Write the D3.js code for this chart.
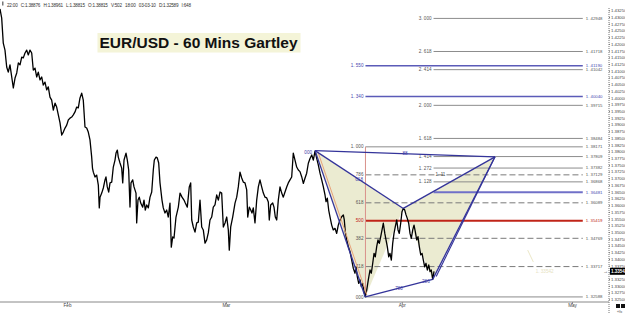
<!DOCTYPE html>
<html>
<head>
<meta charset="utf-8">
<script src="https://cdn.jsdelivr.net/npm/d3@7"></script>
<style>
	body { margin: 0; background: #fff; }
	svg { display: block; font-family: "Liberation Sans", Arial, sans-serif; }
</style>
</head>
<body>
<svg id="chart" width="625" height="313"></svg>
<script>
// hourly EUR/USD closes, day = days since 2010-01-01 (UTC)
const days = [
	19.19, 19.49, 19.77, 20.07, 20.37, 20.65, 20.95, 21.54, 21.84, 22.14, 22.42, 22.72, 23.02, 23.30, 23.60, 23.90,
	24.18, 24.48, 24.78, 25.06, 25.36, 25.66, 25.94, 26.24, 26.54, 26.82, 27.12, 27.42, 27.70, 28.00, 28.30, 28.59,
	28.89, 29.18, 29.47, 29.77, 30.07, 30.35, 30.65, 30.95, 31.23, 31.53, 31.83, 32.11, 32.41, 32.71, 32.99, 33.29,
	33.59, 33.87, 34.17, 34.47, 34.75, 35.05, 35.35, 35.49, 35.64, 35.94, 36.23, 36.52, 36.69, 36.82, 37.12, 37.40,
	37.70, 37.87, 38.10, 38.35, 38.58, 38.88, 39.16, 39.46, 39.64, 39.87, 40.04, 40.34, 40.64, 40.82, 41.05, 41.40,
	41.63, 41.87, 42.10, 42.28, 42.58, 42.81, 43.16, 43.28, 43.51, 43.74, 43.99, 44.34, 44.57, 44.80, 45.05, 45.33,
	45.63, 45.93, 46.21, 46.39, 46.69, 46.91, 47.16, 47.39, 47.74, 47.97, 48.27, 48.57, 48.85, 49.15, 49.38, 49.63,
	49.86, 50.21, 50.62, 50.92, 51.27, 51.62, 51.85, 52.20, 52.55, 52.80, 52.98, 53.26, 53.56, 53.86, 54.14, 54.44,
	54.74, 55.02, 55.32, 55.62, 55.90, 56.20, 56.50, 56.78, 57.08, 57.38, 57.67, 57.97, 58.26, 58.55, 58.85, 59.15,
	59.43, 59.60, 59.85, 60.20, 60.61, 60.91, 61.19, 61.49, 61.79, 62.07, 62.37, 62.67, 62.85, 63.13, 63.38, 63.60,
	63.83, 64.13, 64.43, 64.72, 65.01, 65.31, 65.60, 65.90, 66.20, 66.48, 66.65, 66.90, 67.25, 67.48, 67.71, 67.96,
	68.24, 68.54, 68.84, 69.12, 69.42, 69.72, 70.00, 70.30, 70.60, 70.88, 71.18, 71.48, 71.77, 72.06, 72.36, 72.65,
	72.94, 73.24, 73.53, 73.83, 74.13, 74.41, 74.71, 75.01, 75.29, 75.59, 75.89, 76.17, 76.47, 76.65, 76.88, 77.12,
	77.35, 77.65, 77.93, 78.23, 78.53, 78.81, 79.11, 79.41, 79.70, 79.87, 80.05, 80.29, 80.58, 80.88, 81.18, 81.46,
	81.76, 81.93, 82.16, 82.41, 82.64, 82.87, 83.11, 83.34, 83.57, 83.82, 84.10, 84.40, 84.63, 84.88, 85.11, 85.33,
	85.58, 85.81, 86.04, 86.29, 86.52, 86.75, 87.01, 87.22, 87.45, 87.70, 87.92, 88.16, 88.40, 88.63, 88.86, 89.11,
	89.34, 89.56, 89.81, 90.04, 90.27, 90.52, 90.75, 90.97, 91.22, 91.45, 91.68, 91.93, 92.16, 92.39, 92.63, 92.86,
	93.09, 93.34, 93.57, 93.80, 94.04, 94.27, 94.50, 94.75, 94.98, 95.20, 95.45, 95.68
]
const closes = [
	1.4330, 1.4296, 1.4203, 1.4177, 1.4114, 1.4095, 1.4122, 1.4036, 1.4073, 1.4092, 1.4129, 1.4122, 1.4151, 1.4148, 1.4166, 1.4177,
	1.4159, 1.4177, 1.4166, 1.4103, 1.4110, 1.4077, 1.4095, 1.4066, 1.4077, 1.4047, 1.4058, 1.4029, 1.4040, 1.4002, 1.3991, 1.3954,
	1.3980, 1.3965, 1.3936, 1.3906, 1.3861, 1.3872, 1.3887, 1.3898, 1.3917, 1.3924, 1.3928, 1.3936, 1.3947, 1.3965, 1.3962, 1.3999,
	1.4017, 1.3991, 1.3891, 1.3887, 1.3872, 1.3843, 1.3779, 1.3738, 1.3723, 1.3705, 1.3712, 1.3675, 1.3590, 1.3630, 1.3645, 1.3664,
	1.3694, 1.3705, 1.3668, 1.3649, 1.3683, 1.3686, 1.3742, 1.3768, 1.3794, 1.3805, 1.3779, 1.3757, 1.3738, 1.3683, 1.3768, 1.3794,
	1.3768, 1.3731, 1.3593, 1.3683, 1.3694, 1.3668, 1.3645, 1.3534, 1.3619, 1.3630, 1.3608, 1.3593, 1.3619, 1.3582, 1.3601, 1.3590,
	1.3630, 1.3649, 1.3731, 1.3768, 1.3779, 1.3776, 1.3757, 1.3683, 1.3619, 1.3590, 1.3571, 1.3582, 1.3556, 1.3608, 1.3444, 1.3482,
	1.3478, 1.3556, 1.3593, 1.3645, 1.3630, 1.3619, 1.3608, 1.3593, 1.3668, 1.3683, 1.3545, 1.3519, 1.3500, 1.3534, 1.3537, 1.3619,
	1.3519, 1.3508, 1.3459, 1.3471, 1.3497, 1.3545, 1.3556, 1.3593, 1.3601, 1.3638, 1.3619, 1.3649, 1.3645, 1.3519, 1.3534, 1.3556,
	1.3508, 1.3433, 1.3519, 1.3556, 1.3608, 1.3630, 1.3668, 1.3723, 1.3701, 1.3686, 1.3683, 1.3657, 1.3556, 1.3593, 1.3582, 1.3571,
	1.3590, 1.3534, 1.3619, 1.3668, 1.3694, 1.3668, 1.3645, 1.3630, 1.3627, 1.3612, 1.3545, 1.3601, 1.3608, 1.3593, 1.3556, 1.3545,
	1.3619, 1.3668, 1.3645, 1.3630, 1.3649, 1.3668, 1.3683, 1.3694, 1.3705, 1.3794, 1.3768, 1.3742, 1.3731, 1.3725, 1.3706, 1.3681,
	1.3700, 1.3719, 1.3756, 1.3774, 1.3787, 1.3768, 1.3801, 1.3774, 1.3750, 1.3719, 1.3694, 1.3669, 1.3638, 1.3613, 1.3626, 1.3582,
	1.3557, 1.3526, 1.3508, 1.3514, 1.3495, 1.3526, 1.3545, 1.3557, 1.3564, 1.3545, 1.3501, 1.3471, 1.3446, 1.3427, 1.3396, 1.3365,
	1.3347, 1.3371, 1.3334, 1.3309, 1.3322, 1.3297, 1.3309, 1.3278, 1.3259, 1.3284, 1.3322, 1.3359, 1.3347, 1.3384, 1.3421, 1.3408,
	1.3446, 1.3471, 1.3458, 1.3483, 1.3508, 1.3533, 1.3495, 1.3471, 1.3446, 1.3408, 1.3421, 1.3396, 1.3458, 1.3495, 1.3520, 1.3545,
	1.3508, 1.3495, 1.3533, 1.3576, 1.3588, 1.3582, 1.3564, 1.3551, 1.3533, 1.3495, 1.3477, 1.3508, 1.3526, 1.3501, 1.3471, 1.3483,
	1.3446, 1.3415, 1.3421, 1.3396, 1.3371, 1.3384, 1.3359, 1.3378, 1.3353, 1.3359, 1.3324, 1.3354
]
const lastPrice = 1.33542

// Gartley points X A B C D
const patternNames = ['X', 'A', 'B', 'C', 'D']
const patternDays = [74.71, 83.57, 90.27, 95.45, 106.43]
const patternPrices = [1.3803, 1.32588, 1.3588, 1.3324, 1.3780]
const patternLegs = [['X', 'A'], ['X', 'B'], ['A', 'C'], ['B', 'D'], ['C', 'D'], ['X', 'D']]
const legRatios = [['X', 'B', '618'], ['X', 'D', '88'], ['A', 'C', '780']]
const pointRatios = [['X', '000'], ['C', '286']]

// fibonacci / extension levels
const levelRatios = ['3. 000', '2. 618', '1. 550', '2. 414', '1. 340', '2. 000', '1. 618', '1. 000', '1. 414',
	'1. 272', '786', '1. 128', '', '618', '500', '382', '118', '000']
const levelPrices = [1.42948, 1.41718, 1.41190, 1.41042, 1.40040, 1.39715, 1.38484, 1.38171, 1.37809,
	1.37382, 1.37129, 1.36868, 1.36481, 1.36089, 1.35419, 1.34769, 1.33717, 1.32588]
const levelKinds = ['ext', 'ext', 'blue', 'ext', 'blue', 'ext', 'ext', 'fib', 'ext',
	'ext', 'dash', 'ext', 'blueExt', 'dash', 'red', 'dash', 'dash', 'fib']

const monthDays = [31, 59, 90, 120]
const monthLabels = ['Feb', 'Mar', 'Apr', 'May']
const priceTicks = d3.range(0, 44).map(i => 1.325 + i * 0.0025)

const infoText = '22:00   C:1.38876   H:1.38961   L:1.38815   O:1.38815   V:502   18:00   03-03-10   D:1.32589   I:648'
const title = 'EUR/USD - 60 Mins Gartley'

// layout
const W = 625, H = 313
const PLOT_RIGHT = 609, PLOT_BOTTOM = 302
const FIB_START = 83.6, EXT_START = 95.6, LEVEL_END = 121.9
const SMALL = 4.6

const DAY0 = Date.UTC(2010, 0, 1)
const toDate = d => new Date(DAY0 + d * 864e5)

const x = d3.scaleUtc().domain([toDate(31), toDate(120)]).range([67, 572])
const y = d3.scaleLinear().domain([1.325, 1.4325]).range([299.3, 10.3])
const px = d => x(toDate(d))

const svg = d3.select('#chart')
const pt = {}
patternNames.forEach((n, i) => { pt[n] = [px(patternDays[i]), y(patternPrices[i])] })

// shaded triangles XAB and BCD
svg.append('g').selectAll('path')
	.data([['X', 'A', 'B'], ['B', 'C', 'D']])
	.join('path')
	.attr('d', tri => 'M' + tri.map(n => pt[n].join(',')).join('L') + 'Z')
	.attr('fill', '#ebebd1')

// level lines
const levelStyle = {
	ext: {stroke: '#8c8c8c', width: 1, dash: null, start: EXT_START, text: '#555'},
	fib: {stroke: '#8c8c8c', width: 1, dash: null, start: FIB_START, text: '#555'},
	dash: {stroke: '#7a7a7a', width: 1, dash: '6,3', start: FIB_START, text: '#555'},
	blue: {stroke: '#5b5bb8', width: 1.5, dash: null, start: FIB_START, text: '#4848b0'},
	blueExt: {stroke: '#7070c8', width: 2, dash: null, start: EXT_START, text: '#4848b0'},
	red: {stroke: '#c02418', width: 2, dash: null, start: FIB_START, text: '#c02418'}
}
const levels = levelPrices.map((p, i) => ({p, r: levelRatios[i], s: levelStyle[levelKinds[i]]}))

const lv = svg.append('g').selectAll('g').data(levels).join('g')
lv.append('line')
	.attr('x1', d => px(d.s.start)).attr('x2', px(LEVEL_END))
	.attr('y1', d => y(d.p)).attr('y2', d => y(d.p))
	.attr('stroke', d => d.s.stroke)
	.attr('stroke-width', d => d.s.width)
	.attr('stroke-dasharray', d => d.s.dash)
lv.append('text')
	.attr('x', d => px(d.s.start) - 2).attr('y', d => y(d.p))
	.attr('dy', '0.35em').attr('text-anchor', 'end')
	.attr('font-size', SMALL).attr('fill', d => d.s.text)
	.text(d => d.r)
lv.append('text')
	.attr('x', px(LEVEL_END) + 3).attr('y', d => y(d.p))
	.attr('dy', '0.33em')
	.attr('font-size', 4.3).attr('fill', d => d.s.text)
	.text(d => '1. ' + d3.format('.5f')(d.p).slice(2))

// small note on the 786 line
svg.append('text')
	.attr('x', px(EXT_START) + 2).attr('y', y(1.37129)).attr('dy', '0.35em')
	.attr('font-size', SMALL).attr('fill', '#444')
	.text('1. 11')

// red vertical of the XA retracement
svg.append('line')
	.attr('x1', px(FIB_START)).attr('x2', px(FIB_START))
	.attr('y1', y(1.38171)).attr('y2', y(1.32588))
	.attr('stroke', '#d9918a').attr('stroke-width', 1)

// faint leftover projection
svg.append('line')
	.attr('x1', px(112.19)).attr('y1', y(1.3433))
	.attr('x2', px(113.18)).attr('y2', y(1.3389))
	.attr('stroke', '#ece8c8')
svg.append('text')
	.attr('x', px(113.6)).attr('y', y(1.3354)).attr('dy', '0.35em')
	.attr('font-size', SMALL).attr('fill', '#e6e2c0')
	.text('1. 33542')

// price
svg.append('path')
	.datum(days.map((d, i) => [d, closes[i]]))
	.attr('d', d3.line().x(d => px(d[0])).y(d => y(d[1])))
	.attr('fill', 'none')
	.attr('stroke', '#000')
	.attr('stroke-width', 1.3)
	.attr('stroke-linejoin', 'round')

// X-A trend (orange)
svg.append('line')
	.attr('x1', pt.X[0] + 3).attr('y1', pt.X[1] + 1.5)
	.attr('x2', pt.A[0] + 1.5).attr('y2', pt.A[1] - 2.5)
	.attr('stroke', '#e8a27a').attr('stroke-width', 1)

// pattern legs
svg.append('g').selectAll('line')
	.data(patternLegs)
	.join('line')
	.attr('x1', d => pt[d[0]][0]).attr('y1', d => pt[d[0]][1])
	.attr('x2', d => pt[d[1]][0]).attr('y2', d => pt[d[1]][1])
	.attr('stroke', '#34349a').attr('stroke-width', 1.3)
// second CD edge
svg.append('line')
	.attr('x1', pt.C[0] + 3.5).attr('y1', pt.C[1] - 3)
	.attr('x2', pt.D[0]).attr('y2', pt.D[1])
	.attr('stroke', '#34349a').attr('stroke-width', 1.1)

svg.append('g').selectAll('text')
	.data(legRatios)
	.join('text')
	.attr('x', d => (pt[d[0]][0] + pt[d[1]][0]) / 2)
	.attr('y', d => (pt[d[0]][1] + pt[d[1]][1]) / 2)
	.attr('dy', '0.35em').attr('text-anchor', 'middle')
	.attr('font-size', SMALL).attr('fill', '#4040a8')
	.text(d => d[2])
svg.append('g').selectAll('text')
	.data(pointRatios)
	.join('text')
	.attr('x', d => pt[d[0]][0] - 3)
	.attr('y', d => pt[d[0]][1] + 1.5)
	.attr('dy', '0.35em').attr('text-anchor', 'end')
	.attr('font-size', SMALL).attr('fill', '#4040a8')
	.text(d => d[1])

// price axis
const yAxis = svg.append('g')
	.attr('transform', `translate(${PLOT_RIGHT},0)`)
	.call(d3.axisRight(y).tickValues(priceTicks).tickSize(1).tickPadding(1).tickFormat(d3.format('.5f')))
yAxis.select('.domain').remove()
yAxis.selectAll('text').attr('font-size', 4.3).attr('fill', '#444').attr('font-family', null)
yAxis.selectAll('line').attr('stroke', '#777')
svg.append('line')
	.attr('x1', PLOT_RIGHT).attr('x2', PLOT_RIGHT).attr('y1', 8).attr('y2', H)
	.attr('stroke', '#777').attr('stroke-dasharray', '1,1')

// last price box
svg.append('rect')
	.attr('x', 610).attr('y', y(lastPrice) - 3.5).attr('width', 15).attr('height', 7)
	.attr('fill', '#000')
svg.append('text')
	.attr('x', 611).attr('y', y(lastPrice)).attr('dy', '0.35em')
	.attr('font-size', 4.5).attr('font-weight', 'bold').attr('fill', '#fff')
	.text(d3.format('.5f')(lastPrice))
svg.append('text')
	.attr('x', 603).attr('y', y(lastPrice)).attr('dy', '0.35em')
	.attr('font-size', 5).attr('fill', '#333')
	.text('→')

// time axis
svg.append('line')
	.attr('x1', 0).attr('x2', PLOT_RIGHT).attr('y1', PLOT_BOTTOM).attr('y2', PLOT_BOTTOM)
	.attr('stroke', '#888')
const xAxis = svg.append('g')
	.attr('transform', `translate(0,${PLOT_BOTTOM})`)
	.call(d3.axisBottom(x).tickValues(monthDays.map(toDate)).tickSize(2).tickPadding(0)
		.tickFormat((d, i) => monthLabels[i]))
xAxis.select('.domain').remove()
xAxis.selectAll('text').attr('font-size', SMALL).attr('fill', '#444').attr('font-family', null)
xAxis.selectAll('line').attr('stroke', '#888')

// corner widgets
svg.append('rect').attr('x', 616).attr('y', 304).attr('width', 4).attr('height', 4).attr('fill', '#111')
svg.append('rect').attr('x', 621).attr('y', 304).attr('width', 4).attr('height', 4).attr('fill', '#111')
svg.append('text').attr('x', 617).attr('y', 312.5).attr('font-size', 4).attr('fill', '#555').text('«fx')

// header
svg.append('rect').attr('x', 2).attr('y', 1.5).attr('width', 1.5).attr('height', 4).attr('fill', '#777')
svg.append('text')
	.attr('x', 7).attr('y', 6.5)
	.attr('font-size', SMALL).attr('fill', '#333')
	.attr('textLength', 184).attr('lengthAdjust', 'spacing')
	.style('white-space', 'pre')
	.text(infoText)

// title
svg.append('rect')
	.attr('x', 97.5).attr('y', 33).attr('width', 203).attr('height', 19.5)
	.attr('fill', '#f4f4d8')
svg.append('text')
	.attr('x', 99.5).attr('y', 48.3)
	.attr('font-size', 15.5).attr('font-weight', 'bold').attr('fill', '#111')
	.text(title)
</script>
</body>
</html>
